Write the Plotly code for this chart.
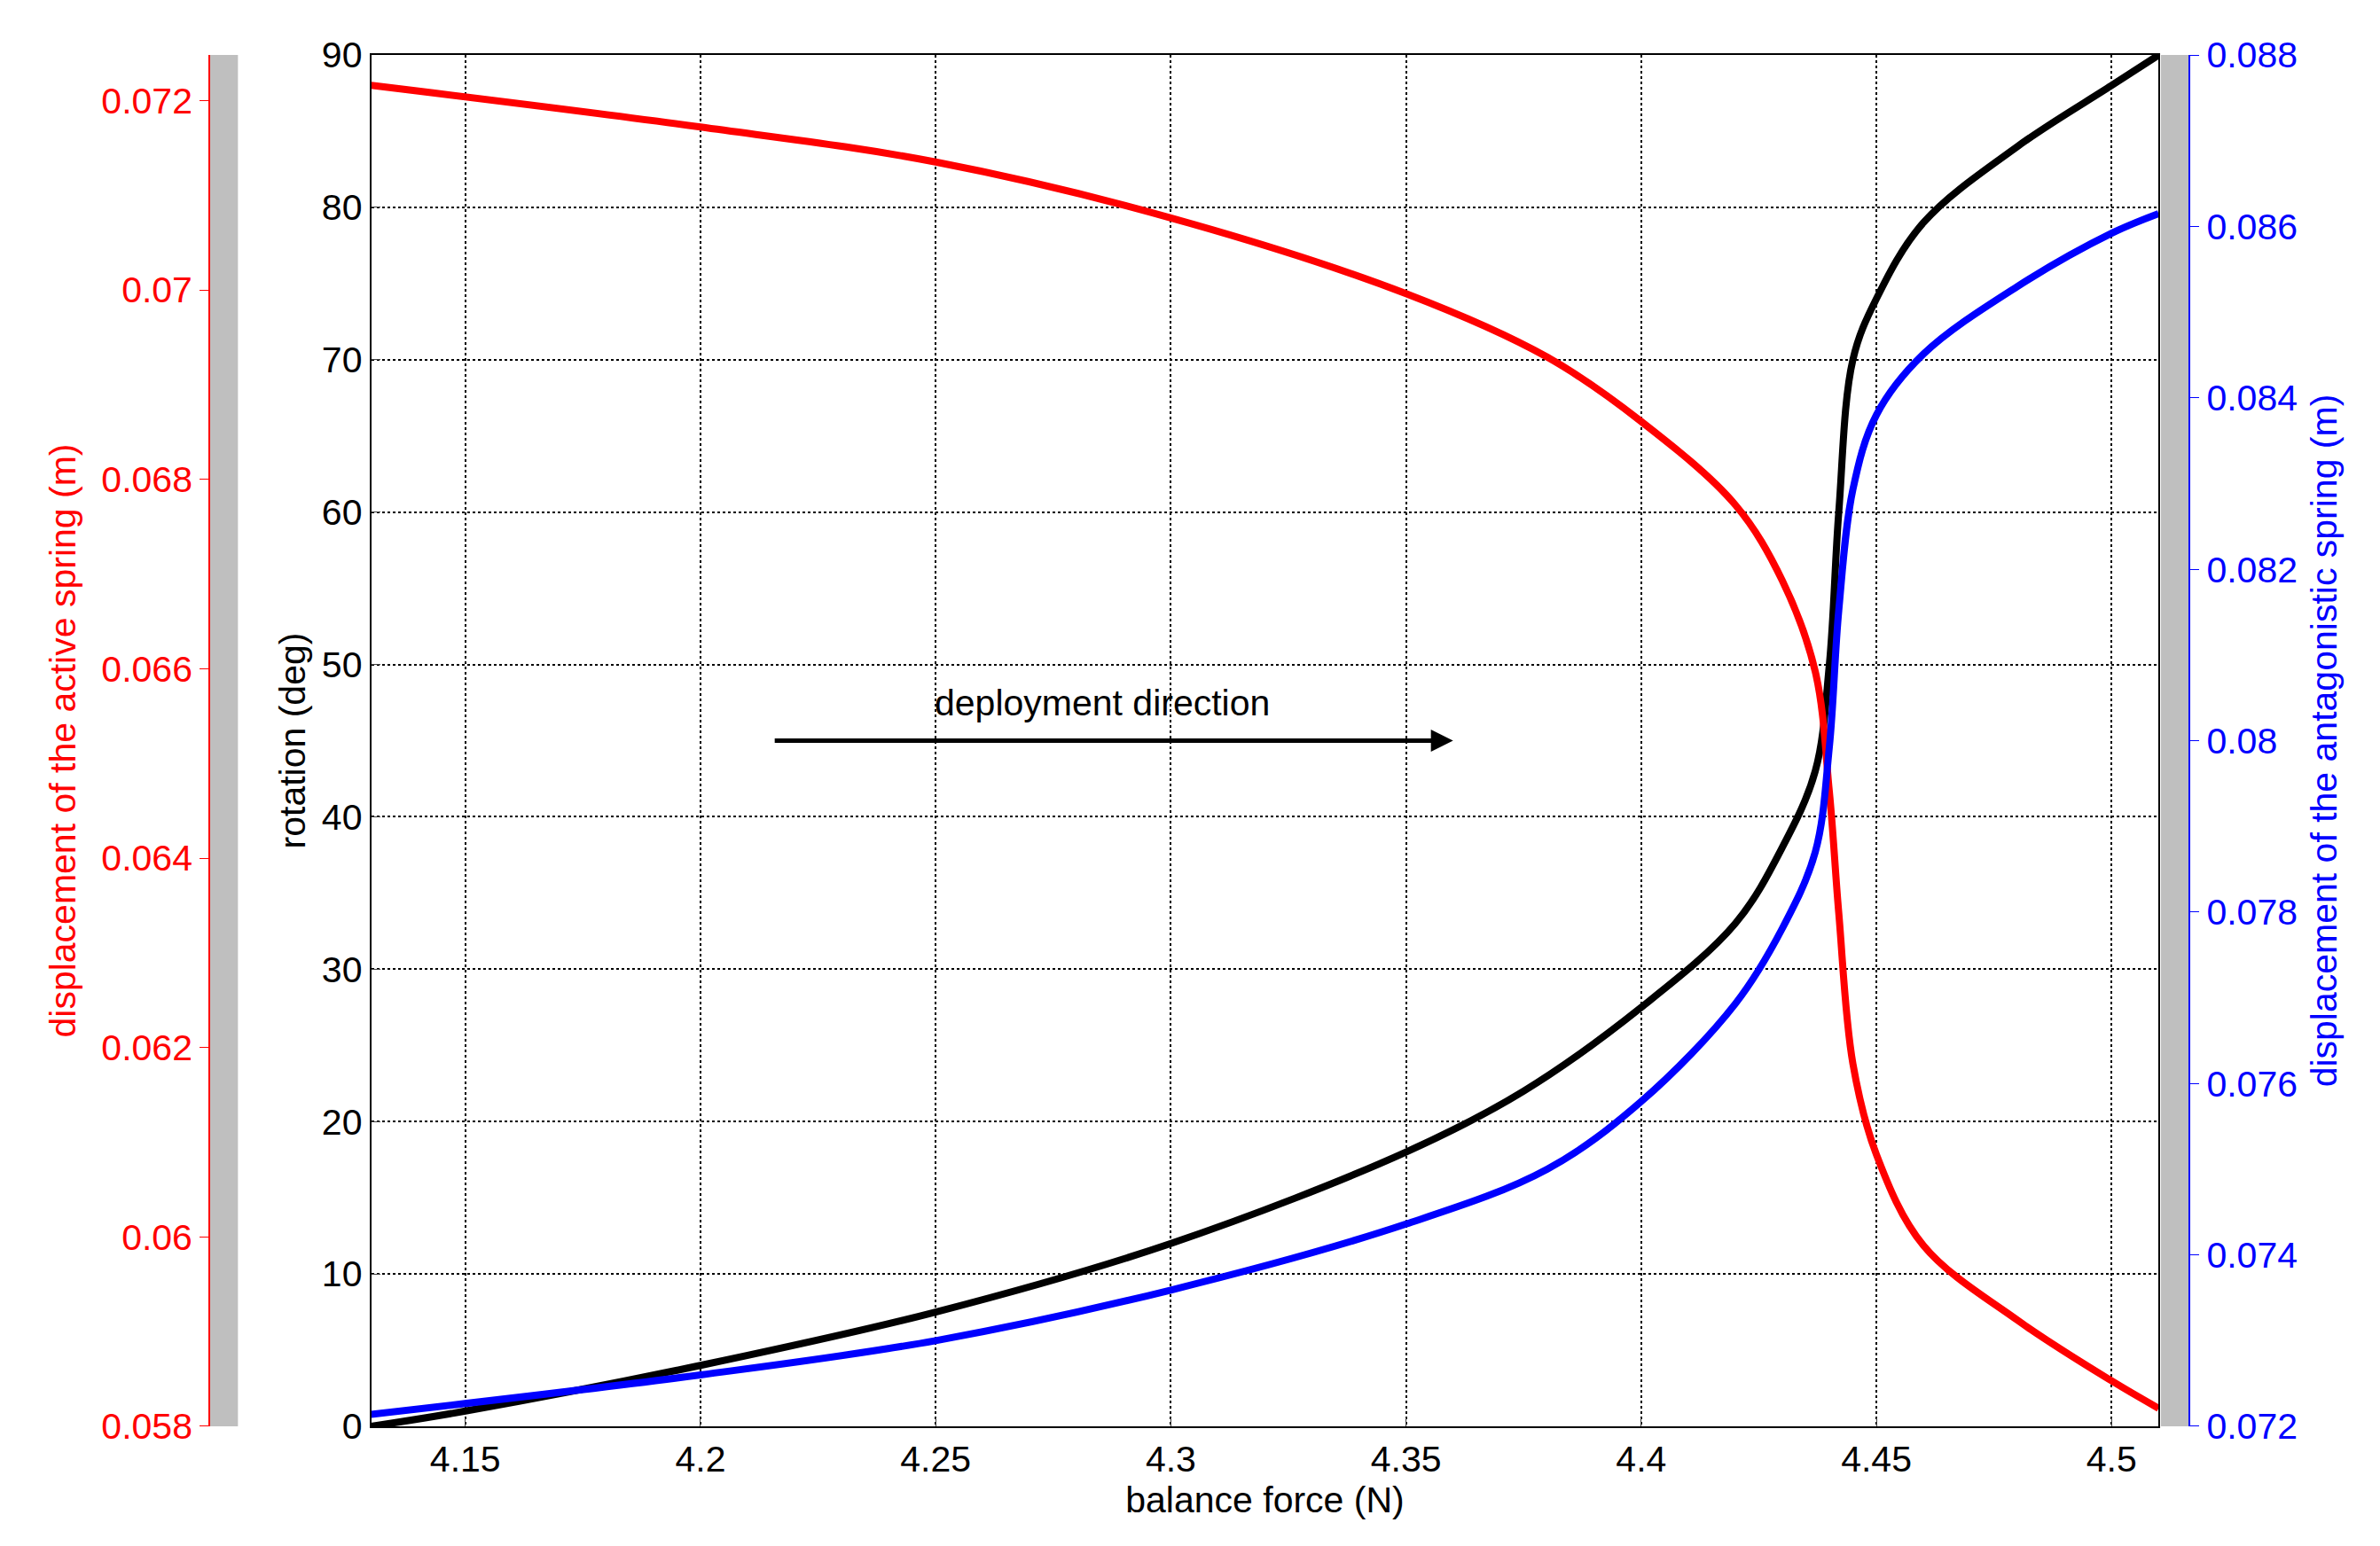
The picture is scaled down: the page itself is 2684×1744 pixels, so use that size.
import plotly.graph_objects as go

force_black = [4.13,4.15,4.2,4.25,4.3,4.35,4.375,4.4,4.42,4.43,4.437,4.44,4.442,4.445,4.45,4.46,4.48,4.5,4.51]
rotation = [0,1,4,7.5,12,18,22,27.5,33,38,43,50,60,70,74,79,84,88,90]

force_red = [4.13,4.2,4.25,4.3,4.35,4.38,4.4,4.42,4.43,4.437,4.44,4.442,4.445,4.45,4.46,4.48,4.5,4.51]
disp_active = [0.07216,0.07172,0.07135,0.07076,0.06996,0.06929,0.06861,0.06773,0.06693,0.06597,0.0647,0.06342,0.06183,0.06087,0.05991,0.05912,0.05848,0.05819]

force_blue = [4.13,4.2,4.25,4.3,4.35,4.38,4.4,4.42,4.43,4.437,4.44,4.442,4.445,4.45,4.46,4.48,4.5,4.51]
disp_antag = [0.07214,0.0726,0.0730,0.07359,0.07436,0.0750,0.07579,0.07693,0.07781,0.0787,0.07993,0.08152,0.08293,0.0838,0.08451,0.0853,0.08592,0.08615]

x_ticks = [4.15,4.2,4.25,4.3,4.35,4.4,4.45,4.5]
rot_ticks = list(range(0, 91, 10))
red_ticks = [0.058,0.06,0.062,0.064,0.066,0.068,0.07,0.072]
blue_ticks = [0.072,0.074,0.076,0.078,0.08,0.082,0.084,0.086,0.088]

F = "Liberation Sans, Arial"
fs = 41
fig = go.Figure()
fig.add_trace(go.Scatter(x=force_red, y=disp_active, yaxis="y2", mode="lines", line=dict(color="red", width=8, shape="spline")))
fig.add_trace(go.Scatter(x=force_blue, y=disp_antag, yaxis="y3", mode="lines", line=dict(color="blue", width=8, shape="spline")))
fig.add_trace(go.Scatter(x=force_black, y=rotation, mode="lines", line=dict(color="black", width=8, shape="spline")))

ax = dict(showline=True, linecolor="black", linewidth=2, ticks="inside", ticklen=10, automargin=False,
          tickfont=dict(family=F, size=fs, color="black"))
fig.update_layout(
    width=2684, height=1744, plot_bgcolor="white", paper_bgcolor="white", showlegend=False,
    margin=dict(l=0, r=0, t=0, b=0),
    font=dict(family=F, size=fs, color="black"),
    xaxis=dict(**ax, domain=[0.153, 0.904], range=[4.13, 4.51], tickvals=x_ticks,
               ticktext=[f"{v:g}" for v in x_ticks], mirror=True,
               showgrid=True, gridcolor="black", griddash="dot", gridwidth=1.5,
               title=dict(text="balance force (N)", font=dict(family=F, size=fs, color="black"), standoff=5)),
    yaxis=dict(**ax, domain=[0.082, 0.969], range=[0, 90], tickvals=rot_ticks, mirror=True,
               showgrid=True, gridcolor="black", griddash="dot", gridwidth=1.5, zeroline=False,
               title=dict(text="rotation (deg)", font=dict(family=F, size=fs, color="black"), standoff=5)),
    yaxis2=dict(showline=True, linecolor="red", linewidth=2, ticks="outside", ticklen=10, tickcolor="red",
                automargin=False,
                tickfont=dict(family=F, size=fs, color="red"), overlaying="y", side="left",
                anchor="free", position=0.085, range=[0.058, 0.07248], tickvals=red_ticks,
                ticktext=[f"{v:g}" for v in red_ticks], showgrid=False, zeroline=False,
                title=dict(text="displacement of the active spring (m)", font=dict(family=F, size=fs, color="red"))),
    yaxis3=dict(showline=True, linecolor="blue", linewidth=2, ticks="outside", ticklen=10, tickcolor="blue",
                automargin=False,
                tickfont=dict(family=F, size=fs, color="blue"), overlaying="y", side="right",
                anchor="free", position=0.917, range=[0.072, 0.088], tickvals=blue_ticks,
                ticktext=[f"{v:g}" for v in blue_ticks], showgrid=False, zeroline=False,
                title=dict(text="displacement of the antagonistic spring (m)", font=dict(family=F, size=fs, color="blue"))),
    shapes=[
        dict(type="rect", xref="paper", yref="paper", x0=0.085, x1=0.097, y0=0.082, y1=0.969,
             fillcolor="#bfbfbf", line=dict(width=0), layer="below"),
        dict(type="rect", xref="paper", yref="paper", x0=0.905, x1=0.917, y0=0.082, y1=0.969,
             fillcolor="#bfbfbf", line=dict(width=0), layer="below"),
    ],
    annotations=[
        dict(x=4.36, y=45, ax=4.2155, ay=45, xref="x", yref="y", axref="x", ayref="y",
             showarrow=True, arrowhead=2, arrowwidth=5, arrowsize=1, arrowcolor="black", text=""),
        dict(x=4.2855, y=47.5, xref="x", yref="y", text="deployment direction", showarrow=False,
             font=dict(family=F, size=fs, color="black")),
    ],
)
fig.write_html("out.html")
